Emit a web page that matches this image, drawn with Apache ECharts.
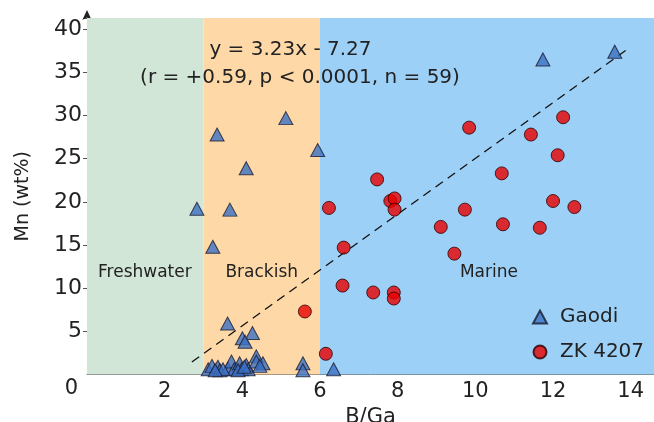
<!DOCTYPE html>
<html><head><meta charset="utf-8">
<script src="https://cdn.jsdelivr.net/npm/echarts@6/dist/echarts.min.js"></script>
<style>html,body{margin:0;padding:0;background:#fff}#c{width:654px;height:422px}</style>
</head><body><div id="c"></div>
<script>
var xTicks = [0, 2, 4, 6, 8, 10, 12, 14];
var yTicks = [0, 5, 10, 15, 20, 25, 30, 35, 40];
var gaodi = [
  [13.59,37.4],[11.74,36.5],[5.12,29.7],[3.35,27.8],[5.94,26.0],[4.10,23.9],
  [2.83,19.2],[3.68,19.1],[3.24,14.8],[3.62,5.9],[4.26,4.8],[4.00,4.2],[4.07,3.8],
  [3.12,0.6],[3.22,1.0],[3.37,0.9],[3.42,0.5],[3.63,0.7],[3.72,1.5],[3.79,0.6],
  [3.93,1.3],[3.98,0.6],[4.10,1.1],[4.15,0.6],[4.36,2.1],[4.36,1.5],[4.53,1.3],
  [3.50,0.6],[3.89,0.5],[5.56,1.3],[5.56,0.5],[6.35,0.6],[4.45,1.0],[3.30,0.5],[4.05,0.9]
];
var zk4207 = [
  [9.84,28.6],[12.26,29.8],[11.43,27.8],[12.12,25.4],[10.68,23.3],[7.47,22.6],
  [7.81,20.1],[7.92,20.4],[12.00,20.1],[6.23,19.3],[7.92,19.1],[9.73,19.1],[12.55,19.4],
  [9.11,17.1],[10.71,17.4],[11.66,17.0],[9.46,14.0],[6.61,14.7],[6.58,10.3],
  [7.37,9.5],[7.90,9.5],[7.90,8.8],[6.15,2.4],[5.61,7.3]
];
var regLine = [[2.7,1.45],[13.9,37.63]];
var zones = [
  {name:'Freshwater', from:0, to:3.0, color:'#d1e6d6', labelAt:[1.49,11.76]},
  {name:'Brackish', from:3.0, to:6.0, color:'#fed9a7', labelAt:[4.5,11.76]},
  {name:'Marine', from:6.0, to:14.6, color:'#9dd0f6', labelAt:[10.35,11.76]}
];
var eqText = 'y = 3.23x - 7.27';
var statText = '(r = +0.59, p < 0.0001, n = 59)';

var FONT = '"DejaVu Sans", Verdana, sans-serif';
var chart = echarts.init(document.getElementById('c'), null, {renderer:'canvas'});
chart.setOption({
  animation:false,
  backgroundColor:'#fff',
  textStyle:{fontFamily:FONT},
  grid:{left:87, top:18, right:0, bottom:47.5, containLabel:false, outerBoundsMode:'none'},
  xAxis:{
    type:'value', min:0, max:14.6, interval:2,
    name:'B/Ga', nameLocation:'middle', nameGap:21,
    nameTextStyle:{fontSize:21, color:'#222', fontFamily:FONT, verticalAlign:'top'},
    axisLine:{show:true, lineStyle:{color:'#555', width:1}},
    axisTick:{show:true, inside:true, length:4, lineStyle:{color:'#555'}},
    axisLabel:{fontSize:21, color:'#222', margin:7, fontFamily:FONT, showMinLabel:false,
      formatter:function(v){return xTicks.indexOf(v)>=0 ? String(v) : '';}},
    splitLine:{show:false}
  },
  yAxis:{
    type:'value', min:0, max:41.3, interval:5,
    name:'Mn (wt%)', nameLocation:'middle', nameGap:54,
    nameTextStyle:{fontSize:19, color:'#222', fontFamily:FONT},
    axisLine:{show:true, symbol:['none','arrow'], symbolSize:[7,10], symbolOffset:[0,8], lineStyle:{color:'#222', width:1}},
    axisTick:{show:true, inside:false, length:4, lineStyle:{color:'#555'}},
    axisLabel:{fontSize:22, color:'#222', margin:5, fontFamily:FONT, showMinLabel:false,
      formatter:function(v){return yTicks.indexOf(v)>=0 ? String(v) : '';}},
    splitLine:{show:false}
  },
  legend:{
    orient:'vertical', left:527, top:302, itemGap:15,
    itemWidth:14, itemHeight:13,
    textStyle:{fontSize:20, color:'#222', fontFamily:FONT, padding:[0,0,0,8]},
    data:[{name:'Gaodi', icon:'triangle'},{name:'ZK 4207', icon:'circle'}]
  },
  graphic:[
    {type:'text', z:100, x:71.5, y:389, style:{text:'0', fill:'#222', font:'21px '+FONT, align:'center', verticalAlign:'middle'}},
    {type:'text', z:100, x:290.5, y:50, style:{text:eqText, fill:'#222', font:'20px '+FONT, align:'center', verticalAlign:'middle'}},
    {type:'text', z:100, x:300, y:78, style:{text:statText, fill:'#222', font:'20px '+FONT, align:'center', verticalAlign:'middle'}}
  ],
  series:[
    {
      type:'scatter', name:'zones', data:[], silent:true, z:0,
      markArea:{silent:true, data: zones.map(function(z){
        return [{xAxis:z.from, yAxis:0, itemStyle:{color:z.color}}, {xAxis:z.to, yAxis:41.3}];
      }), label:{show:false}},
      markPoint:{silent:true, symbol:'circle', symbolSize:0,
        label:{show:true, position:'inside', fontSize:17, color:'#222', fontFamily:FONT, formatter:'{b}'},
        data: zones.map(function(z){ return {name:z.name, coord:z.labelAt}; })}
    },
    {
      type:'line', name:'reg', data:regLine, symbol:'none', silent:true, z:3,
      lineStyle:{color:'#111', width:1.3, type:[9,6]}
    },
    {
      type:'scatter', name:'Gaodi', data:gaodi, symbol:'triangle', symbolSize:[14,13], z:5,
      itemStyle:{color:'#3b6fc3', borderColor:'#1a1a2a', borderWidth:1}
    },
    {
      type:'scatter', name:'ZK 4207', data:zk4207, symbol:'circle', symbolSize:13, z:6,
      itemStyle:{color:'#e80000', borderColor:'#2a0000', borderWidth:1}
    }
  ]
});
</script></body></html>
